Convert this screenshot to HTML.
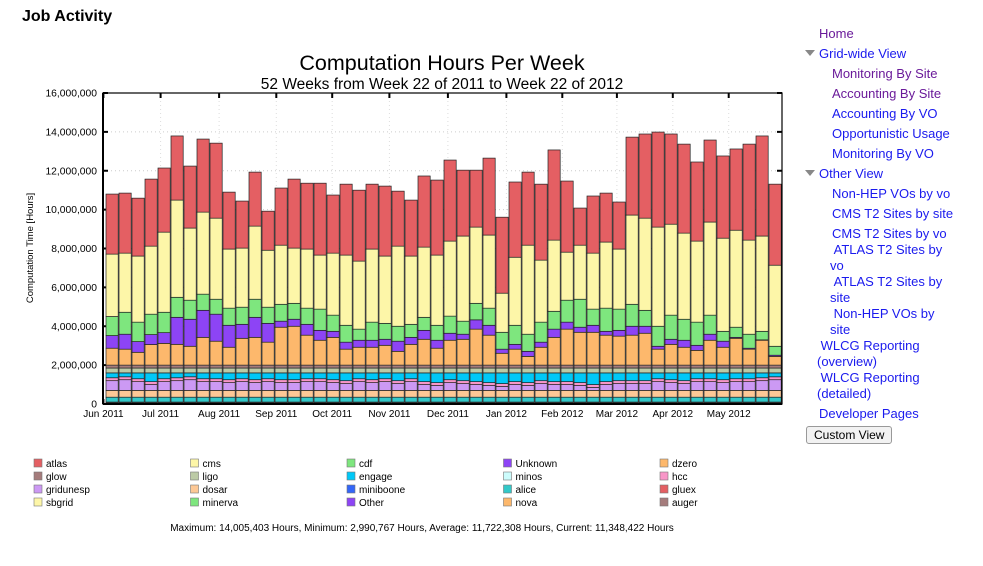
<!DOCTYPE html>
<html><head><meta charset="utf-8"><style>
body{margin:0;width:983px;height:566px;background:#fff;font-family:"Liberation Sans",sans-serif;position:relative;overflow:hidden}
h1{position:absolute;left:22px;top:8px;margin:0;font-size:16px;font-weight:bold}
#nav{position:absolute;left:800px;top:24px;font-size:13px;line-height:20px}
#nav a{position:absolute;white-space:nowrap;color:#1a1aee;text-decoration:none}
#nav a.v{color:#6a1a9a}
.tri{position:absolute;width:0;height:0;border-left:5px solid transparent;border-right:5px solid transparent;border-top:6px solid #888}
button{position:absolute;left:806px;top:426px;font-size:12px;font-family:"Liberation Sans",sans-serif;padding:1px 7px;border:1px solid #999;border-radius:3px;background:#f2f2f2}
</style></head><body>
<h1>Job Activity</h1>
<div id="nav">
<a class="v" style="left:19px;top:0">Home</a>
<div class="tri" style="left:5px;top:26px"></div>
<a style="left:19px;top:20px">Grid-wide View</a>
<a class="v" style="left:32px;top:40px">Monitoring By Site</a>
<a class="v" style="left:32px;top:60px">Accounting By Site</a>
<a style="left:32px;top:80px">Accounting By VO</a>
<a style="left:32px;top:100px">Opportunistic Usage</a>
<a style="left:32px;top:120px">Monitoring By VO</a>
<div class="tri" style="left:5px;top:146px"></div>
<a style="left:19px;top:140px">Other View</a>
<a style="left:32px;top:160px">Non-HEP VOs by vo</a>
<a style="left:32px;top:180px">CMS T2 Sites by site</a>
<a style="left:32px;top:200px">CMS T2 Sites by vo</a>
<a style="left:30px;top:218px;line-height:16px">&nbsp;ATLAS T2 Sites by<br>vo</a>
<a style="left:30px;top:250px;line-height:16px">&nbsp;ATLAS T2 Sites by<br>site</a>
<a style="left:30px;top:282px;line-height:16px">&nbsp;Non-HEP VOs by<br>site</a>
<a style="left:17px;top:314px;line-height:16px">&nbsp;WLCG Reporting<br>(overview)</a>
<a style="left:17px;top:346px;line-height:16px">&nbsp;WLCG Reporting<br>(detailed)</a>
<a style="left:19px;top:380px">Developer Pages</a>
</div>
<button>Custom View</button>
<svg id="chart" width="983" height="566" style="position:absolute;left:0;top:0" font-family="Liberation Sans, sans-serif"></svg>
<script>
const weeks=[1,2,3,4,5,6,7,8,9,10,11,12,13,14,15,16,17,18,19,20,21,22,23,24,25,26,27,28,29,30,31,32,33,34,35,36,37,38,39,40,41,42,43,44,45,46,47,48,49,50,51,52];
const other=[0.1,0.1,0.1,0.1,0.1,0.1,0.1,0.1,0.1,0.1,0.1,0.1,0.1,0.1,0.1,0.1,0.1,0.1,0.1,0.1,0.1,0.1,0.1,0.1,0.1,0.1,0.1,0.1,0.1,0.1,0.1,0.1,0.1,0.1,0.1,0.1,0.1,0.1,0.1,0.1,0.1,0.1,0.1,0.1,0.1,0.1,0.1,0.1,0.1,0.1,0.1,0.1];
const alice=[0.25,0.25,0.25,0.25,0.25,0.25,0.25,0.25,0.25,0.25,0.25,0.25,0.25,0.25,0.25,0.25,0.25,0.25,0.25,0.25,0.25,0.25,0.25,0.25,0.25,0.25,0.25,0.25,0.25,0.25,0.25,0.25,0.25,0.25,0.25,0.25,0.25,0.25,0.25,0.25,0.25,0.25,0.25,0.25,0.25,0.25,0.25,0.25,0.25,0.25,0.25,0.25];
const dosar=[0.35,0.35,0.35,0.35,0.35,0.35,0.35,0.35,0.35,0.35,0.35,0.35,0.35,0.35,0.35,0.35,0.35,0.35,0.35,0.35,0.35,0.35,0.35,0.35,0.35,0.35,0.35,0.35,0.35,0.35,0.35,0.35,0.35,0.35,0.35,0.35,0.35,0.35,0.35,0.35,0.35,0.35,0.35,0.35,0.35,0.35,0.35,0.35,0.35,0.35,0.35,0.35];
const gridunesp=[0.5,0.55,0.45,0.3,0.45,0.5,0.55,0.45,0.45,0.4,0.45,0.4,0.45,0.4,0.4,0.45,0.45,0.4,0.35,0.45,0.4,0.45,0.35,0.45,0.3,0.25,0.4,0.35,0.3,0.25,0.2,0.3,0.25,0.35,0.3,0.3,0.25,0.15,0.3,0.35,0.35,0.35,0.45,0.4,0.35,0.45,0.45,0.4,0.45,0.45,0.5,0.55];
const hcc=[0.15,0.15,0.15,0.15,0.15,0.15,0.15,0.15,0.15,0.15,0.15,0.15,0.15,0.15,0.15,0.15,0.15,0.15,0.15,0.15,0.15,0.15,0.15,0.15,0.15,0.15,0.15,0.15,0.15,0.15,0.15,0.15,0.15,0.15,0.15,0.15,0.15,0.15,0.15,0.15,0.15,0.15,0.15,0.15,0.15,0.15,0.15,0.15,0.15,0.15,0.15,0.15];
const engage=[0.25,0.2,0.3,0.45,0.3,0.25,0.2,0.3,0.3,0.35,0.3,0.35,0.3,0.35,0.35,0.3,0.3,0.35,0.4,0.3,0.35,0.3,0.4,0.3,0.45,0.5,0.35,0.4,0.45,0.5,0.55,0.45,0.5,0.4,0.45,0.45,0.5,0.6,0.45,0.4,0.4,0.4,0.3,0.35,0.4,0.3,0.3,0.35,0.3,0.3,0.25,0.2];
const ligo=[0.25,0.25,0.25,0.25,0.25,0.25,0.25,0.25,0.25,0.25,0.25,0.25,0.25,0.25,0.25,0.25,0.25,0.25,0.25,0.25,0.25,0.25,0.25,0.25,0.25,0.25,0.25,0.25,0.25,0.25,0.25,0.25,0.25,0.25,0.25,0.25,0.25,0.25,0.25,0.25,0.25,0.25,0.25,0.25,0.25,0.25,0.25,0.25,0.25,0.25,0.25,0.25];
const glow=[0.15,0.15,0.15,0.15,0.15,0.15,0.15,0.15,0.15,0.15,0.15,0.15,0.15,0.15,0.15,0.15,0.15,0.15,0.15,0.15,0.15,0.15,0.15,0.15,0.15,0.15,0.15,0.15,0.15,0.15,0.15,0.15,0.15,0.15,0.15,0.15,0.15,0.15,0.15,0.15,0.15,0.15,0.15,0.15,0.15,0.15,0.15,0.15,0.15,0.15,0.15,0.15];
const dzero=[0.87,0.82,0.66,1.06,1.12,1.07,0.97,1.43,1.23,0.92,1.38,1.43,1.18,1.95,2.00,1.54,1.28,1.43,0.82,0.92,0.92,1.02,0.71,1.07,1.33,0.87,1.28,1.33,1.85,1.54,0.61,0.82,0.45,0.92,1.43,1.85,1.69,1.69,1.54,1.49,1.54,1.64,0.82,1.07,0.92,0.76,1.28,0.92,1.38,0.82,1.28,0.45];
const unknown=[0.65,0.77,0.55,0.51,0.55,1.39,1.39,1.39,1.39,1.13,0.72,1.03,0.97,0.31,0.36,0.56,0.51,0.31,0.36,0.36,0.36,0.31,0.52,0.36,0.46,0.41,0.36,0.26,0.48,0.51,0.21,0.25,0.26,0.26,0.42,0.36,0.26,0.36,0.20,0.30,0.46,0.36,0.15,0.26,0.36,0.26,0.31,0.31,0.05,0.05,0.02,0.06];
const cdf=[0.98,1.13,1.00,1.05,1.05,1.03,0.98,0.83,0.77,0.88,0.88,0.93,0.83,0.87,0.82,0.83,1.09,0.83,0.87,0.57,0.93,0.82,0.77,0.67,0.67,0.77,0.88,0.67,0.85,0.88,0.87,0.98,0.88,1.03,0.92,1.13,1.44,0.83,1.19,1.09,1.13,0.82,1.03,1.24,1.08,1.19,0.98,0.51,0.52,0.72,0.44,0.46];
const cms=[3.21,3.04,3.40,3.50,4.12,5.00,3.71,4.22,4.17,3.04,3.04,3.76,2.93,3.04,2.84,3.04,2.78,3.19,3.61,3.50,3.76,3.46,4.12,3.51,3.61,3.61,3.86,4.38,3.92,3.76,2.01,3.50,4.58,3.19,3.66,2.47,2.78,2.88,3.40,3.09,4.59,4.74,5.10,4.68,4.43,4.17,4.79,4.79,4.99,4.84,4.90,4.17];
const atlas=[3.09,3.09,2.98,3.45,3.30,3.30,3.19,3.76,3.86,2.93,2.42,2.78,2.01,2.94,3.55,3.39,3.70,2.99,3.65,3.65,3.34,3.60,2.83,2.88,3.66,3.86,4.17,3.39,2.93,3.96,3.91,3.87,3.76,3.91,4.64,3.66,1.91,2.94,2.52,2.42,4.01,4.33,4.89,4.64,4.58,4.07,4.22,4.23,4.18,4.94,5.15,4.17];
const yTicks=[0,2,4,6,8,10,12,14,16];
const yTickLabels=["0","2,000,000","4,000,000","6,000,000","8,000,000","10,000,000","12,000,000","14,000,000","16,000,000"];
const monthLabels=["Jun 2011","Jul 2011","Aug 2011","Sep 2011","Oct 2011","Nov 2011","Dec 2011","Jan 2012","Feb 2012","Mar 2012","Apr 2012","May 2012"];
const monthWeekPos=[-0.2,4.2,8.7,13.1,17.4,21.8,26.3,30.8,35.1,39.3,43.6,47.9];
const legendNames=["atlas","cms","cdf","Unknown","dzero","glow","ligo","engage","minos","hcc","gridunesp","dosar","miniboone","alice","gluex","sbgrid","minerva","Other","nova","auger"];
const legendColors=["#e45f63","#fdf6a8","#7ee67e","#8d44f5","#fdb86c","#a57c7c","#bccaa6","#00c8f8","#ccfcfc","#f896c8","#cc99f4","#fdc896","#3366f8","#33c8c8","#e45f63","#fdf6a8","#7ee67e","#8d44f5","#fdb86c","#a57c7c"];
const stack=[["other",other,"#333333"],["alice",alice,"#33c8c8"],["dosar",dosar,"#fdc896"],["gridunesp",gridunesp,"#cc99f4"],["hcc",hcc,"#f896c8"],["engage",engage,"#00c8f8"],["ligo",ligo,"#bccaa6"],["glow",glow,"#a57c7c"],["dzero",dzero,"#fdb86c"],["unknown",unknown,"#8d44f5"],["cdf",cdf,"#7ee67e"],["cms",cms,"#fdf6a8"],["atlas",atlas,"#e45f63"]];
const NS="http://www.w3.org/2000/svg";
const svg=document.getElementById('chart');
const L=103,R=782,T=93,B=404;
const bw=(R-L-3)/weeks.length;
function x(i){return L+3+i*bw;}
function y(v){return B-(v/16)*(B-T);}
function el(t,a,p){const e=document.createElementNS(NS,t);for(const k in a)e.setAttribute(k,a[k]);(p||svg).appendChild(e);return e;}
let t=el('text',{x:442,y:70,'text-anchor':'middle','font-size':21.5});t.textContent='Computation Hours Per Week';


t=el('text',{x:442,y:89,'text-anchor':'middle','font-size':15.5});t.textContent='52 Weeks from Week 22 of 2011 to Week 22 of 2012';


yTicks.forEach((v,i)=>{
 const g=el('line',{x1:L,x2:R,y1:y(v),y2:y(v),stroke:'#ccc','stroke-dasharray':'1,3'});
 
 
 const tk=el('text',{x:97,y:y(v)+3.5,'text-anchor':'end','font-size':10.3});tk.textContent=yTickLabels[i];
 
 
 el('line',{x1:L,x2:L+5,y1:y(v),y2:y(v),stroke:'#000','stroke-width':2});
 el('line',{x1:R-5,x2:R,y1:y(v),y2:y(v),stroke:'#000','stroke-width':2});
});
monthLabels.forEach((m,i)=>{
 const xx=x(monthWeekPos[i]);
 el('line',{x1:xx,x2:xx,y1:T,y2:B,stroke:'#ddd','stroke-dasharray':'1,3'});
 el('line',{x1:xx,x2:xx,y1:T,y2:T+5,stroke:'#000','stroke-width':2});
 el('line',{x1:xx,x2:xx,y1:B-5,y2:B,stroke:'#000','stroke-width':2});
 const tx=el('text',{x:xx,y:417,'text-anchor':'middle','font-size':10});tx.textContent=m;
 
 
});
weeks.forEach((w,i)=>{
 let base=0;
 stack.forEach(s=>{
  const v=s[1][i];
  const r=el('rect',{x:x(i),y:y(base+v),width:bw-0.8,height:y(base)-y(base+v),fill:s[2],stroke:'#222','stroke-width':0.7});
  
  
  base+=v;
 });
});
const ax=el('rect',{x:L,y:T,width:R-L,height:B-T,fill:'none',stroke:'#000','stroke-width':1.2});


el('line',{x1:L,x2:L,y1:T,y2:B,stroke:'#000','stroke-width':2});
el('line',{x1:L,x2:R,y1:B,y2:B,stroke:'#000','stroke-width':2});
t=el('text',{x:0,y:0,'text-anchor':'middle','font-size':9.5,transform:'translate(33,248) rotate(-90)'});t.textContent='Computation Time [Hours]';


legendNames.forEach((n,i)=>{
 const c=i%5,r=Math.floor(i/5);
 const lx=34+c*156.5,ly=459+r*13;
 const g=el('g',{});
 
 
 el('rect',{x:lx,y:ly,width:8,height:8,fill:legendColors[i],stroke:'#777','stroke-width':0.6},g);
 const lt=el('text',{x:lx+12,y:ly+8,'font-size':10},g);lt.textContent=n;
});
t=el('text',{x:422,y:531,'text-anchor':'middle','font-size':10});t.textContent='Maximum: 14,005,403 Hours, Minimum: 2,990,767 Hours, Average: 11,722,308 Hours, Current: 11,348,422 Hours';


</script>
</body></html>
